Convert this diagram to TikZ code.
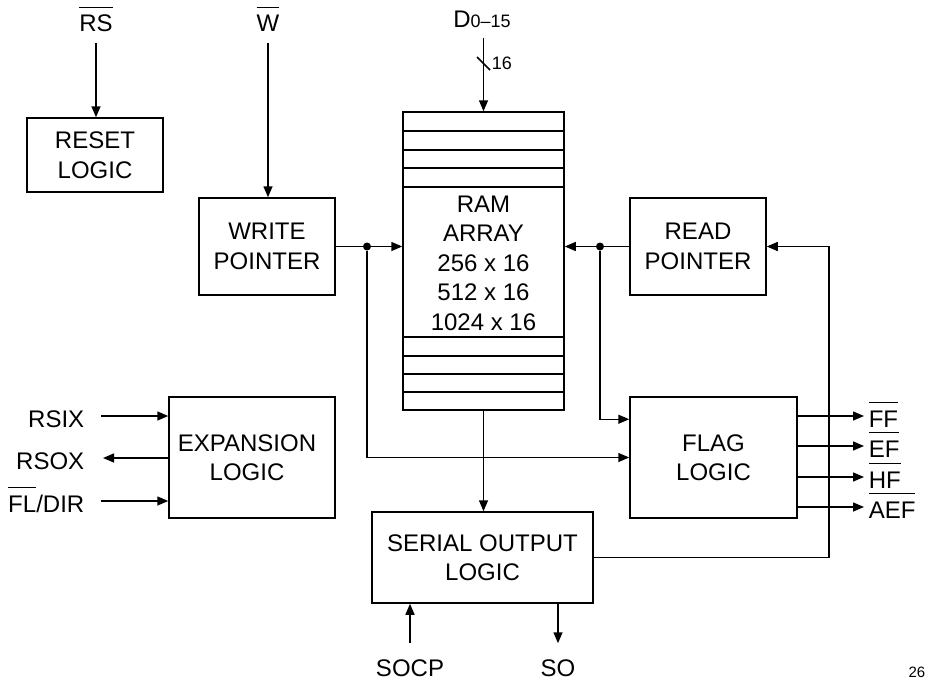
\documentclass[tikz,border=0pt]{standalone}
\usepackage{fontspec}
\setmainfont{Liberation Sans}
\usepackage{tikz}
\usetikzlibrary{arrows.meta, calc}

% bar over an active-low signal name
\newcommand{\ovl}[1]{\setbox0\hbox{#1}\rlap{\rule[12pt]{\wd0}{0.6pt}}\box0}

\begin{document}
\begin{tikzpicture}[x=0.5pt, y=-0.5pt, line width=0.75pt,
        >={Triangle[length=5.5pt, width=4.5pt]},
        block/.style={draw, inner sep=0pt, align=center, font=\fontsize{12}{14.75}\selectfont},
        sig/.style={inner sep=2pt, text height=14pt, text depth=3pt, font=\fontsize{12}{14}\selectfont},
        junction/.style={circle, fill, inner sep=0pt, minimum size=4pt}]
        \useasboundingbox (0,0) rectangle (927,680);

        % blocks
        \node[block, minimum width=68pt, minimum height=37pt] (reset) at (95,155) {RESET\\LOGIC};
        \node[block, minimum width=68pt, minimum height=48.5pt] (wp) at (267,246.5) {WRITE\\POINTER};
        \node[block, minimum width=68pt, minimum height=48.5pt] (rp) at (698,246.5) {READ\\POINTER};
        \node[block, minimum width=80.5pt, minimum height=149pt] (ram) at (483.5,261) {};
        \node[block, draw=none] (ramtxt) at (483.5,263) {RAM\\ARRAY\\256 x 16\\512 x 16\\1024 x 16};
        \node[block, minimum width=83pt, minimum height=60.5pt, text width=80pt] (exp) at (252,457.5) {\hspace*{-5pt}EXPANSION\\\hspace*{-5pt}LOGIC};
        \node[block, minimum width=83.5pt, minimum height=60.5pt] (flag) at (713.5,457.5) {FLAG\\LOGIC};
        \node[block, minimum width=110.5pt, minimum height=45.5pt] (serial) at (482.5,557.5) {SERIAL OUTPUT\\LOGIC};

        % RAM rows
        \foreach \y in {131, 150, 168, 187, 337, 356, 374, 392}
            \draw (ram.west |- 0,\y) -- (ram.east |- 0,\y);

        % inputs on top
        \node[sig] (rs) at (96,21) {\ovl{RS}};
        \node[sig] (w) at (268,21) {\ovl{W}};
        \node[sig] (d) at (482,16) {D{\fontsize{9}{10}\selectfont 0--15}};
        \node[inner sep=1pt, font=\fontsize{9}{10}\selectfont, anchor=west] (bus) at (489,63) {16};
        \draw[->] (rs) -- (rs |- reset.north);
        \draw[->] (w) -- (w |- wp.north);
        \draw[->] (d.south -| ram.north) -- (ram.north);
        \draw (477,57) -- (490,70);

        % pointers into the RAM and the flag logic
        \node[junction] (wdot) at (367,246.5) {};
        \node[junction] (rdot) at (600,246.5) {};
        \draw[->] (wp.east) -- (ram.west |- wp.east);
        \draw[->] (rp.west) -- (ram.east |- rp.west);
        \draw[->] (wdot) |- (flag.west);
        \draw[->] (rdot) |- ([yshift=-11.5pt]flag.north west);
        \draw[->] (ram.south) -- (ram.south |- serial.north);

        % feedback from the serial output logic
        \coordinate (fb) at (829,400);
        \draw[->] (serial.east) -| (fb) |- (rp.east);

        % flag outputs
        \foreach \y/\t in {416/FF, 446/EF, 477/HF, 507/AEF} {
            \node[sig, anchor=west] (o-\t) at (864,\y) {\ovl{\t}};
            \draw[->] (flag.east |- o-\t) -- (o-\t.west);
        }

        % expansion signals
        \node[sig, anchor=east] (rsix) at (89,416) {RSIX};
        \node[sig, anchor=east] (rsox) at (89,458) {RSOX};
        \node[sig, anchor=east] (fldir) at (89,501) {\ovl{FL}/DIR};
        \draw[->] ([xshift=6pt]rsix.east) -- (rsix.east -| exp.west);
        \draw[<-] ([xshift=7pt]rsox.east) -- (rsox.east -| exp.west);
        \draw[->] ([xshift=6pt]fldir.east) -- (fldir.east -| exp.west);

        % serial port
        \node[sig] (socp) at (410,665) {SOCP};
        \node[sig] (so) at (558,665) {SO};
        \draw[->] (socp) -- (socp |- serial.south);
        \draw[->] (so |- serial.south) -- (so);

        \node[inner sep=0pt, font=\fontsize{7.5}{9}\selectfont, anchor=base east] (pg) at (926,677) {26};
    \end{tikzpicture}
\end{document}
